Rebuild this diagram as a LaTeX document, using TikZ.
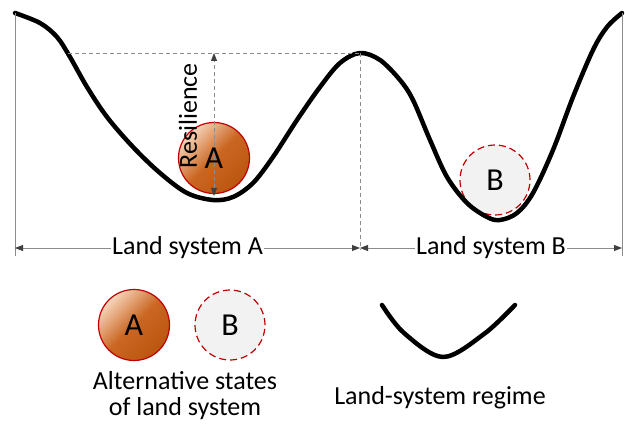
\documentclass[tikz,border=0pt]{standalone}
\usepackage{fontspec}
\setmainfont{Carlito}
\usetikzlibrary{arrows.meta}
\definecolor{linegray}{HTML}{8C8C8C}
\definecolor{tipgray}{HTML}{404040}
\definecolor{Alight}{HTML}{F6D6BC}
\definecolor{Adark}{HTML}{C55A11}
\definecolor{ringred}{HTML}{C00000}
\definecolor{Bfill}{HTML}{F2F2F2}
\begin{document}
\begin{tikzpicture}[x=1pt,y=-1pt,
  font=\fontsize{26}{30}\selectfont,
  landscape/.style={line width=4.5pt, line cap=round, line join=round},
  guide/.style={linegray, line width=0.8pt},
  dashguide/.style={linegray, line width=0.8pt, dash pattern=on 4pt off 3pt},
  gtip/.tip={Triangle[length=8pt,width=6pt,color=tipgray]},
  stateA/.style={circle, minimum size=71pt, inner sep=0pt, draw=ringred, line width=1.2pt,
    left color=Alight, right color=Adark!95!black, middle color=Adark!90!Alight, shading angle=45,
    font=\fontsize{32}{34}\selectfont},
  stateB/.style={circle, minimum size=70pt, inner sep=0pt, draw=ringred, fill=Bfill,
    line width=1.2pt, dash pattern=on 7pt off 4pt, font=\fontsize{32}{34}\selectfont},
  dimlabel/.style={fill=white, inner sep=1pt, text=black}
]
\useasboundingbox (0,0) rectangle (625,428);

% circles on the landscape
\node[stateA] (ballA) at (214,158) {};
\node[stateB] (ballB) at (495,180) {B};

% landscape curve
\draw[landscape] plot[smooth, tension=0.55] coordinates {(15,13) (40,23) (57,37) (70,57) (87,87) (107,117) (133,147) (160,173) (187,193) (213,200) (233,197) (253,183) (273,157) (297,120) (320,87) (340,63) (360,53) (380,60) (400,80) (413,100) (430,140) (447,177) (467,203) (487,217) (500,220) (517,213) (533,193) (553,150) (573,97) (593,50) (607,27) (622,13)};

% guide lines
\coordinate (tl) at (15,13);
\coordinate (bl) at (15,256);
\coordinate (tr) at (622,13);
\coordinate (br) at (622,256);
\coordinate (pk) at (360,53);
\coordinate (hs) at (68,53);
\coordinate (pkb) at (360,250);
\coordinate (dl) at (15,248);
\coordinate (dm) at (360,248);
\coordinate (dr) at (622,248);
\coordinate (rt) at (214,53);
\coordinate (rb) at (214,196);

\draw[guide] (tl) -- (bl);
\draw[guide] (tr) -- (br);
\draw[dashguide] (hs) -- (pk);
\draw[dashguide] (pk) -- (pkb);

% resilience arrow
\draw[dashguide, gtip-gtip] (rb) -- (rt);
\node[rotate=90] (res) at (188,116) {Resilience};
\node[font=\fontsize{32}{34}\selectfont] (labA) at (ballA) {A};

% dimension lines
\draw[guide, gtip-gtip] (dl) -- node[dimlabel] (lsA) {Land system A} (dm);
\draw[guide, gtip-gtip] (dm) -- node[dimlabel] (lsB) {Land system B} (dr);

% legend
\node[stateA] (legA) at (134,325) {A};
\node[stateB] (legB) at (230,325) {B};
\node[align=center, font=\fontsize{26}{26}\selectfont] (legtxt) at (185,396) {Alternative states\\of land system};
\draw[landscape] plot[smooth, tension=0.55] coordinates {(382,305) (404,333) (443,357) (484,334) (515,305)};
\node (regime) at (440,398) {Land-system regime};
\end{tikzpicture}
\end{document}
